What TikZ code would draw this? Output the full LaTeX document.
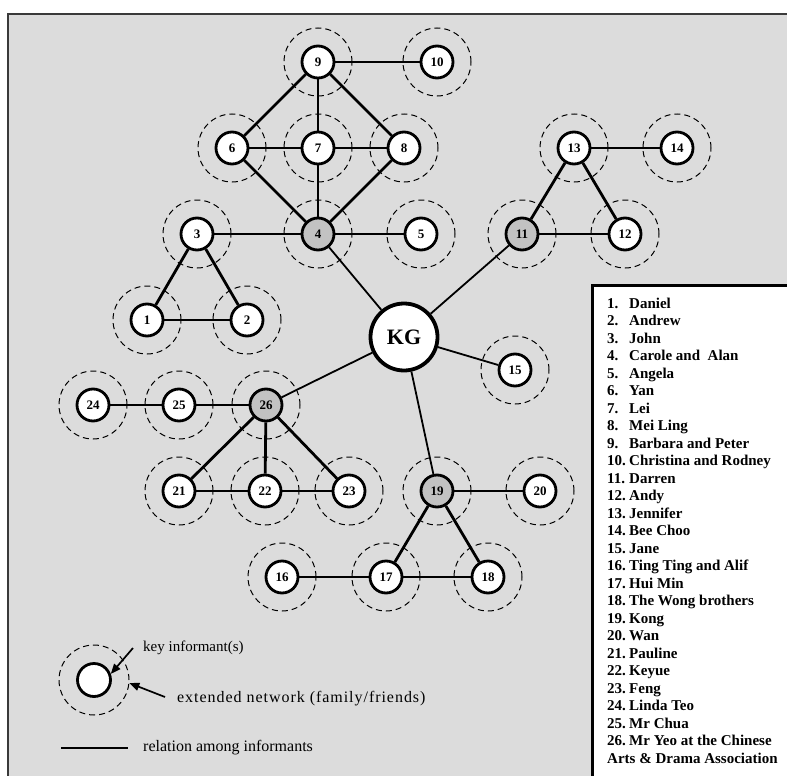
\documentclass[tikz,border=0pt]{standalone}
\usepackage{fontspec}
\setmainfont{Liberation Serif}
\usetikzlibrary{arrows.meta}
\definecolor{PanelGray}{HTML}{DCDCDC}
\definecolor{KeyGray}{HTML}{C2C2C2}
\definecolor{FrameGray}{HTML}{3A3A3A}

\begin{document}
\begin{tikzpicture}[x=1pt,y=-1pt,>={Triangle[length=10pt,width=8pt]},
  informant/.style={circle,draw,line width=2.8pt,fill=white,minimum size=32pt,inner sep=0pt,
    font=\bfseries\fontsize{13}{13}\selectfont},
  ring/.style={circle,draw,dash pattern=on 6pt off 4pt,line width=1pt,minimum size=68pt},
  tie/.style={line width=2.8pt},
  link/.style={line width=1.8pt},
  listitem/.style={anchor=base west,inner sep=0pt,font=\bfseries\fontsize{15}{15}\selectfont},
  legtext/.style={anchor=west,inner sep=0pt,font=\fontsize{16}{16}\selectfont}]
  \useasboundingbox (0,0) rectangle (787,776);
  \fill[PanelGray] (8,14) rectangle (787,776);
  \draw[FrameGray,line width=2pt] (8,776) -- (8,14) -- (787,14);
  % informants with their extended networks
  \foreach \n/\x/\y/\c in {1/147/320/white,2/247/320/white,3/197/234/white,4/318/234/KeyGray,
      5/421/234/white,6/232/148/white,7/318/148/white,8/404/148/white,9/318/62/white,
      10/437/62/white,11/522/234/KeyGray,12/625/234/white,13/574/148/white,14/677/148/white,
      15/515/370/white,16/282/577/white,17/386/577/white,18/488/577/white,19/437/491/KeyGray,
      20/540/491/white,21/179/491/white,22/265/491/white,23/349/491/white,24/93/405/white,
      25/179/405/white,26/266/405/KeyGray}{
    \node[ring] (r\n) at (\x,\y) {};
    \node[informant,fill=\c] (n\n) at (\x,\y) {\n};
  }
  \node[informant,minimum size=67pt,line width=3.8pt,font=\bfseries\fontsize{22}{22}\selectfont] (kg) at (404,337) {KG};
  % relations
  \foreach \a/\b in {9/10,9/6,9/7,9/8,6/7,7/8,6/4,7/4,8/4,3/4,4/5,3/1,3/2,1/2,
      13/11,13/12,11/12,13/14,24/25,25/26,26/21,26/22,26/23,21/22,22/23,
      19/20,19/17,19/18,16/17,17/18}
    \draw[tie] (n\a) -- (n\b);
  \foreach \b in {4,11,15,26,19}
    \draw[link] (kg) -- (n\b);
  % legend of symbols
  \node[ring,minimum size=70pt] (legring) at (94,680) {};
  \node[informant,minimum size=33pt] (legkey) at (94,680) {};
  \node[legtext,font=\fontsize{15}{15}\selectfont] (keytxt) at (143,648) {key informant(s)};
  \node[legtext,font=\fontsize{16}{16}\selectfont\addfontfeature{LetterSpace=6}] (exttxt) at (177,699) {extended network (family/friends)};
  \node[legtext] (tietxt) at (143,748) {relation among informants};
  \coordinate (keytail) at (133,648);
  \coordinate (exttail) at (165,697);
  \coordinate (tiestart) at (61,748);
  \coordinate (tieend) at (128,748);
  \draw[->,line width=1.7pt] (keytail) -- (legkey.20);
  \draw[->,line width=1.7pt] (exttail) -- (legring.-5);
  \draw[tie] (tiestart) -- (tieend);
  % list of names
  \fill[white] (592,285) rectangle (787,776);
  \draw[line width=3pt] (592,776) -- (592,285) -- (787,285);
  \foreach \i/\nm in {1/Daniel,2/Andrew,3/John,4/Carole and~ Alan,5/Angela,6/Yan,7/Lei,
      8/Mei Ling,9/Barbara and Peter,10/Christina and Rodney,11/Darren,12/Andy,13/Jennifer,
      14/Bee Choo,15/Jane,16/Ting Ting and Alif,17/Hui Min,18/The Wong brothers,19/Kong,
      20/Wan,21/Pauline,22/Keyue,23/Feng,24/Linda Teo,25/Mr Chua,26/Mr Yeo at the Chinese}
    \node[listitem] (item\i) at (607,{308+17.5*(\i-1)}) {\makebox[22pt][l]{\i.}\nm};
  \node[listitem] (item27) at (607,{308+17.5*26}) {Arts \& Drama Association};
\end{tikzpicture}
\end{document}
